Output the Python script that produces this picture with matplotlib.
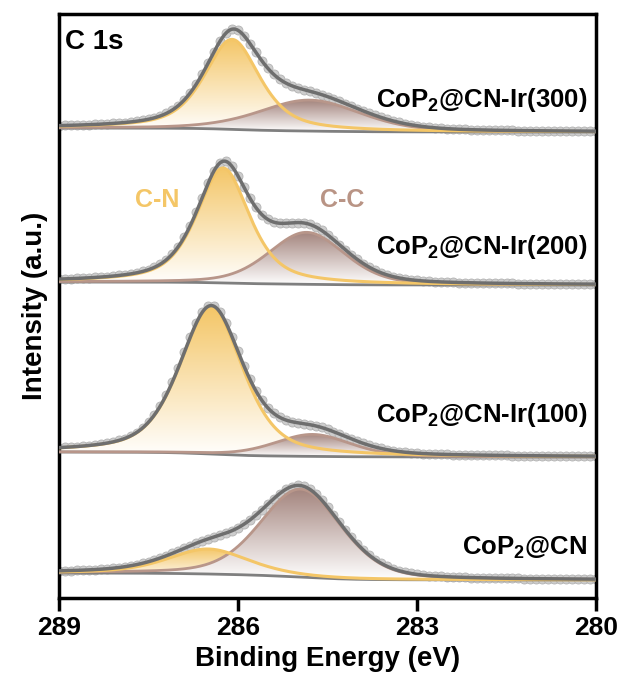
import numpy as np
import matplotlib
matplotlib.use('Agg')
import matplotlib.pyplot as plt
import matplotlib.colors as colors

plt.rcParams['font.family'] = 'Liberation Sans'
plt.rcParams['font.weight'] = 'bold'
plt.rcParams['axes.labelweight'] = 'bold'
plt.rcParams['mathtext.fontset'] = 'custom'
plt.rcParams['mathtext.bf'] = 'Liberation Sans:bold'
plt.rcParams['mathtext.default'] = 'bf'

# measured spectra, 289 -> 280 eV in 0.1 eV steps (a.u., already stacked)
energy = np.round(np.arange(289.0, 279.95, -0.1), 1)
int_ir300 = [474, 475, 475, 475, 475, 475, 476, 476, 476, 477, 477, 477, 478, 479, 480, 481, 482, 484, 487, 490,
             494, 500, 507, 516, 526, 537, 548, 559, 567, 571, 570, 564, 556, 548, 539, 532, 526, 521, 517, 514,
             512, 510, 509, 507, 505, 503, 501, 499, 496, 494, 491, 489, 487, 485, 483, 481, 479, 478, 476, 475,
             474, 473, 473, 472, 472, 471, 471, 471, 471, 470, 470, 470, 470, 470, 470, 470, 470, 469, 469, 469,
             469, 469, 469, 469, 469, 469, 469, 469, 469, 469, 469]
int_ir200 = [321, 321, 321, 322, 322, 322, 323, 323, 323, 324, 325, 325, 326, 327, 329, 330, 333, 336, 340, 346,
             353, 363, 374, 388, 402, 417, 429, 437, 439, 434, 424, 413, 402, 393, 385, 381, 378, 377, 377, 377,
             377, 377, 376, 373, 370, 365, 360, 355, 350, 345, 341, 336, 333, 330, 327, 325, 323, 322, 321, 320,
             320, 319, 319, 318, 318, 318, 318, 317, 317, 317, 317, 317, 317, 317, 317, 317, 317, 316, 316, 316,
             316, 316, 316, 316, 316, 316, 316, 316, 316, 316, 316]
int_ir100 = [152, 153, 153, 153, 154, 154, 155, 156, 157, 158, 160, 161, 164, 167, 172, 178, 185, 194, 205, 218,
             232, 248, 263, 277, 288, 294, 294, 288, 277, 263, 249, 234, 221, 209, 200, 192, 187, 183, 180, 178,
             177, 176, 175, 174, 173, 171, 168, 166, 163, 161, 159, 157, 155, 153, 152, 150, 149, 148, 148, 147,
             147, 146, 146, 146, 146, 146, 145, 145, 145, 145, 145, 145, 145, 145, 145, 145, 144, 144, 144, 144,
             144, 144, 144, 144, 144, 144, 144, 144, 144, 144, 144]
int_cn = [29, 29, 29, 30, 30, 30, 30, 31, 31, 32, 32, 33, 34, 35, 37, 38, 40, 42, 44, 47,
          49, 52, 54, 57, 59, 61, 63, 65, 67, 69, 72, 76, 80, 85, 90, 96, 101, 106, 111, 113,
          115, 114, 111, 106, 100, 93, 85, 78, 70, 63, 56, 50, 45, 40, 37, 34, 31, 29, 28, 27,
          26, 25, 24, 24, 24, 23, 23, 23, 23, 22, 22, 22, 22, 22, 22, 22, 22, 22, 21, 21,
          21, 21, 21, 21, 21, 21, 21, 21, 21, 21, 21]
spectra = [int_ir300, int_ir200, int_ir100, int_cn]

# peak fit results (pseudo-Voigt components + Shirley background)
samples = ['CoP$_2$@CN-Ir(300)', 'CoP$_2$@CN-Ir(200)', 'CoP$_2$@CN-Ir(100)', 'CoP$_2$@CN']
cn_center = [286.10, 286.25, 286.45, 286.50]
cn_height = [90, 115, 147, 25]
cn_fwhm = [1.10, 1.05, 1.25, 1.60]
cn_eta = [0.6, 0.6, 0.5, 0.5]
cc_center = [284.80, 284.85, 284.75, 284.95]
cc_height = [31, 52, 22, 88]
cc_fwhm = [2.0, 1.5, 1.5, 1.6]
cc_eta = [0.3, 0.3, 0.3, 0.3]
base_left = [472, 318, 148, 27]
base_right = [468, 315, 143, 20]
label_y = [500, 353, 185, 52]

CN_COL = '#F4C667'
CC_COL = '#B8968A'


def pvoigt(e, c, h, w, eta):
    g = np.exp(-4 * np.log(2) * ((e - c) / w) ** 2)
    l = 1 / (1 + (2 * (e - c) / w) ** 2)
    return h * (eta * l + (1 - eta) * g)


def shirley(sig, left, right):
    cum = np.cumsum(sig[::-1])[::-1]
    return right + (left - right) * cum / cum[0]


def gradient_fill(ax, xx, y0, y1, color, z):
    poly = ax.fill_between(xx, y0, y1, facecolor='none', edgecolor='none')
    cmap = colors.LinearSegmentedColormap.from_list('g', ['white', color])
    grad = np.linspace(0, 1, 256).reshape(-1, 1)
    im = ax.imshow(grad, extent=[xx.max(), xx.min(), y0.min(), y1.max()],
                   origin='lower', aspect='auto', cmap=cmap, zorder=z)
    im.set_clip_path(poly.get_paths()[0], transform=ax.transData)


fig = plt.figure(figsize=(6.22, 6.77), dpi=100)
ax = fig.add_axes([59 / 622, 79 / 677, 537 / 622, 584 / 677])

x = np.linspace(289, 280, 901)
for i in range(4):
    cn = pvoigt(x, cn_center[i], cn_height[i], cn_fwhm[i], cn_eta[i])
    cc = pvoigt(x, cc_center[i], cc_height[i], cc_fwhm[i], cc_eta[i])
    base = shirley(cn + cc, base_left[i], base_right[i])

    ax.plot(energy, spectra[i], 'o', ms=6.5, mfc='#CDCDCD', mec='#B2B2B2', mew=0.6, zorder=1)
    gradient_fill(ax, x, base, base + cn, CN_COL, 2)
    gradient_fill(ax, x, base, base + cc, '#A4857E', 2)
    ax.plot(x, base, color='#7F7F7F', lw=2, zorder=3)
    ax.plot(x, base + cc, color=CC_COL, lw=2, zorder=4)
    ax.plot(x, base + cn, color=CN_COL, lw=2.2, zorder=4)
    ax.plot(x, base + cn + cc, color='#6E6E6E', lw=2.5, zorder=5)
    ax.text(280.15, label_y[i], samples[i], ha='right', va='center', fontsize=18.5, zorder=6)

ax.text(0.012, 0.975, 'C 1s', transform=ax.transAxes, ha='left', va='top', fontsize=20)
ax.text(287.35, 400, 'C-N', color=CN_COL, ha='center', va='center', fontsize=18)
ax.text(284.25, 400, 'C-C', color='#B99485', ha='center', va='center', fontsize=18)

ax.set_xlim(289, 280)
ax.set_ylim(2, 586)
ax.set_yticks([])
ax.set_xticks([289, 286, 283, 280])
ax.tick_params(axis='x', direction='out', length=9, width=2.5, labelsize=19, pad=4)
for s in ax.spines.values():
    s.set_linewidth(2.5)
ax.set_xlabel('Binding Energy (eV)', fontsize=20, labelpad=4)
ax.set_ylabel('Intensity (a.u.)', fontsize=20, labelpad=8)

plt.savefig('out.png', dpi=100)
